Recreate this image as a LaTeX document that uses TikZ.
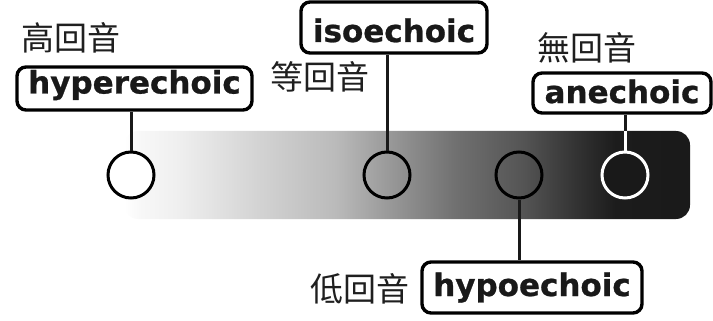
\documentclass[tikz,border=0pt]{standalone}
\usepackage{fontspec}
\newfontfamily\termfont{DejaVu Sans}[BoldFeatures={FakeBold=0.8}]
\newfontfamily\cjk{Noto Sans CJK TC}

% grey scale from bright (left) to dark (right); the path box maps to 25bp..75bp
\pgfdeclarehorizontalshading{echoscale}{100bp}{%
  color(0bp)=(white); color(25bp)=(white); color(26.5bp)=(black!3);
  color(29.6bp)=(black!6);
  color(36.7bp)=(black!17); color(43.7bp)=(black!27); color(48.4bp)=(black!40);
  color(54.3bp)=(black!56); color(60.3bp)=(black!67); color(64.9bp)=(black!80);
  color(68.4bp)=(black!89); color(75bp)=(black!90); color(100bp)=(black!90)}

\tikzset{
  term/.style={draw=black, line width=3.4pt, rounded corners=9pt, fill=white,
    inner sep=0pt, font=\termfont\bfseries\fontsize{31}{31}\selectfont,
    text=black!90},
  % baseline sits (h - d)/2 below the box centre
  lift/.style 2 args={text height=#1pt, text depth=#2pt},
  cjklabel/.style={inner sep=0pt, font=\cjk\fontsize{33}{33}\selectfont, text=black!88},
  spot/.style={circle, draw=black, line width=3pt, minimum size=46pt, inner sep=0pt},
  link/.style={line width=3pt, draw=black!90},
  scalebar/.style={shading=echoscale, rounded corners=14pt, inner sep=0pt,
    minimum width=566pt, minimum height=88pt}
}

\begin{document}
\begin{tikzpicture}[x=1pt,y=-1pt]
  \useasboundingbox (0,0) rectangle (713,321);

  % echogenicity scale bar
  \node[scalebar] (bar) at (407,175) {};

  % sample spots on the bar
  \node[spot, fill=white] (hyperc) at (131,175) {};
  \node[spot] (isoc) at (387,175) {};
  \node[spot] (hypoc) at (519,175) {};
  \node[spot, draw=white, fill=black!90] (anec) at (625,175) {};

  % term boxes
  \node[term, lift={20}{10}, minimum width=235pt, minimum height=43pt] (hyper) at (134.5,88.5) {hyperechoic};
  \node[term, lift={29.5}{0.5}, minimum width=186pt, minimum height=51pt] (iso) at (394,27.5) {isoechoic};
  \node[term, lift={25}{5}, minimum width=178pt, minimum height=40pt] (an) at (622,93) {anechoic};
  \node[term, lift={23.5}{6.5}, minimum width=220pt, minimum height=51pt] (hypo) at (532,287.5) {hypoechoic};

  % Chinese terms
  \node[cjklabel] (hyperzh) at (71,37.5) {高回音};
  \node[cjklabel] (isozh) at (320,77) {等回音};
  \node[cjklabel] (anzh) at (587,47.5) {無回音};
  \node[cjklabel] (hypozh) at (360,288.5) {低回音};

  % connectors
  \draw[link] (hyperc.north) -- (hyperc.north |- hyper.south);
  \draw[link] (isoc.north) -- (isoc.north |- iso.south);
  \draw[link] (hypoc.south) -- (hypoc.south |- hypo.north);
  \draw[link] (anec.north) -- (anec.north |- an.south);
  \draw[line width=3pt, white] (anec.north) -- (anec.north |- bar.north);
\end{tikzpicture}
\end{document}
